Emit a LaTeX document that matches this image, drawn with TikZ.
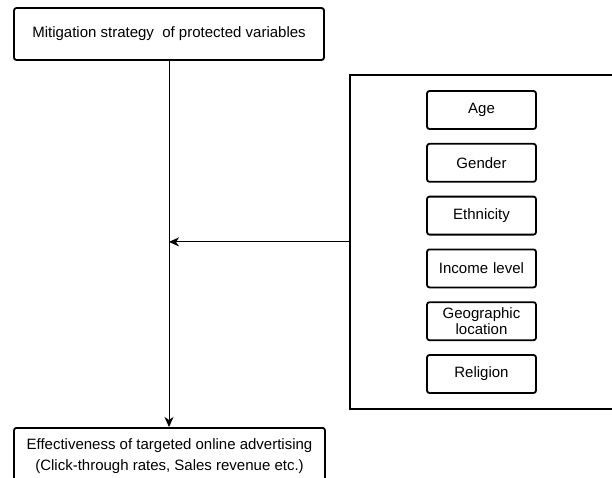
\documentclass[tikz,border=0pt]{standalone}
\usepackage{fontspec}
\setmainfont{Liberation Sans}
\usetikzlibrary{arrows.meta, positioning}

\begin{document}
\begin{tikzpicture}[
    x=1pt, y=-1pt,
    node distance=13pt,
    block/.style={rectangle, draw, line width=1.8pt, rounded corners=2.5pt, text centered, font=\fontsize{15}{16.5}\selectfont},
    attr/.style={block, minimum width=109pt, minimum height=38pt, text width=105pt, inner sep=0pt},
    arrow/.style={-{Stealth[length=10pt, width=9pt, inset=3pt]}, line width=1pt}
]

\useasboundingbox (0,0) rectangle (612,477);
\clip (0,0) rectangle (612,477);

% Mitigation strategy
\node[block, minimum width=310pt, minimum height=52pt] (mitig) at (169,34) {Mitigation strategy \ of protected variables};

% Effectiveness (cut off at the bottom)
\node[block, anchor=north, minimum width=311pt, inner ysep=11pt, align=center, font=\fontsize{15}{20.5}\selectfont] (effect) at (169.5,427)
    {Effectiveness of targeted online advertising\\(Click-through rates, Sales revenue etc.)};

% Protected variables (cut off at the right)
\node[draw, line width=1.8pt, minimum width=300pt, minimum height=334pt, anchor=north west] (prot) at (349,74) {};

\node[attr] (age) at (481.5,110) {Age};
\node[attr, below=of age] (gender) {Gender};
\node[attr, below=of gender] (ethnic) {Ethnicity};
\node[attr, below=of ethnic] (income) {Income level};
\node[attr, below=of income] (geo) {Geographic\\location};
\node[attr, below=of geo] (religion) {Religion};

% Arrows
\draw[arrow] (mitig.south) -- (mitig.south |- effect.north);
\coordinate (join) at (mitig.south |- prot.west);
\draw[arrow] (prot.west) -- (join);

\end{tikzpicture}
\end{document}
